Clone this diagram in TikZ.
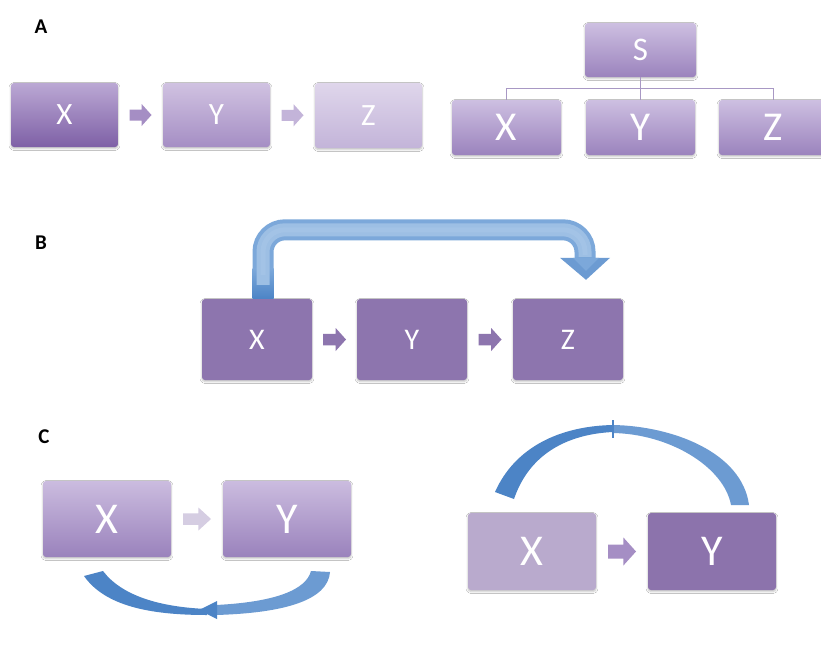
\documentclass[tikz,border=0pt]{standalone}
\usepackage{fontspec}
\setmainfont{Carlito}
\usetikzlibrary{calc,shadows.blur}

\definecolor{aXtop}{HTML}{BBA8D4}
\definecolor{aXbot}{HTML}{7E60A6}
\definecolor{aYtop}{HTML}{D0C2E1}
\definecolor{aYbot}{HTML}{A58EC4}
\definecolor{aZtop}{HTML}{DFD6EB}
\definecolor{aZbot}{HTML}{C3B4D9}
\definecolor{hTop}{HTML}{CDBFE1}
\definecolor{hBot}{HTML}{9B83BD}
\definecolor{hLine}{HTML}{A898C4}
\definecolor{bBox}{HTML}{8D75AE}
\definecolor{cXtop}{HTML}{CBBCDF}
\definecolor{cXbot}{HTML}{9A82BC}
\definecolor{pale}{HTML}{D5CDE2}
\definecolor{dLight}{HTML}{B9AACD}
\definecolor{dDark}{HTML}{8C73AC}
\definecolor{blueDark}{HTML}{4C84C6}
\definecolor{blueMid}{HTML}{6C9BD2}
\definecolor{blueEdge}{HTML}{7CA8DA}
\definecolor{blueLight}{HTML}{A3C3E6}

\tikzset{
  pbox/.style={rounded corners=3pt, text=white, inner sep=0pt,
    blur shadow={shadow xshift=0pt, shadow yshift=-1.5pt,
      shadow blur steps=4, shadow opacity=25}},
  grad/.style 2 args={top color=#1, bottom color=#2},
  conn/.style={draw=hLine, line width=1pt},
  lbl/.style={font=\bfseries\fontsize{21}{21}\selectfont, text=black}
}

% small block arrow placed midway between two boxes
\newcommand\blockarrow[5]{%
  \path ($(#1.east)!.5!(#2.west)$) coordinate (bm);
  \fill[#5, shift={(bm)}]
    (-#3,-#4/2) -- (#3*0.1,-#4/2) -- (#3*0.1,-#4) -- (#3,0)
    -- (#3*0.1,#4) -- (#3*0.1,#4/2) -- (-#3,#4/2) -- cycle;}

\begin{document}
\begin{tikzpicture}[x=1pt,y=-1pt]
\useasboundingbox[fill=white] (0,0) rectangle (821,645);

% ---------- A ----------
\node[lbl] (la) at (41,27) {A};
\begin{scope}[font=\fontsize{31}{31}\selectfont]
\node[pbox, grad={aXtop}{aXbot}, minimum width=107pt, minimum height=64pt] (ax) at (64.5,115) {X};
\node[pbox, grad={aYtop}{aYbot}, minimum width=107pt, minimum height=64pt] (ay) at (216.5,115) {Y};
\node[pbox, grad={aZtop}{aZbot}, minimum width=107pt, minimum height=65pt] (az) at (368.5,115.5) {Z};
\end{scope}
\blockarrow{ax}{ay}{11}{11}{aYbot}
\blockarrow{ay}{az}{11}{11}{aZbot}

% hierarchy
\node[pbox, grad={hTop}{hBot}, minimum width=111pt, minimum height=54pt,
  font=\fontsize{33}{33}\selectfont] (s) at (640.5,50) {S};
\begin{scope}[font=\fontsize{41}{41}\selectfont]
\node[pbox, grad={hTop}{hBot}, minimum width=109pt, minimum height=55pt] (hx) at (506.5,127.5) {X};
\node[pbox, grad={hTop}{hBot}, minimum width=109pt, minimum height=55pt] (hy) at (640.5,127.5) {Y};
\node[pbox, grad={hTop}{hBot}, minimum width=109pt, minimum height=55pt] (hz) at (773.5,127.5) {Z};
\end{scope}
\draw[conn] (s.south) -- (hy.north);
\draw[conn] (hx.north) |- ($(s.south)!.5!(hy.north)$) -| (hz.north);

% ---------- B ----------
\node[lbl] (lb) at (41,243) {B};
\begin{scope}[font=\fontsize{30}{30}\selectfont]
\node[pbox, fill=bBox, minimum width=110pt, minimum height=81pt] (bx) at (257,339.5) {X};
\node[pbox, fill=bBox, minimum width=110pt, minimum height=81pt] (by) at (412,339.5) {Y};
\node[pbox, fill=bBox, minimum width=110pt, minimum height=81pt] (bz) at (568,339.5) {Z};
\end{scope}
\blockarrow{bx}{by}{11.5}{11.5}{bBox}
\blockarrow{by}{bz}{11.5}{11.5}{bBox}

% bent arrow from X over Y into Z
\coordinate (bs) at ([xshift=6pt]bx.north);
\coordinate (be) at ([xshift=17pt,yshift=40pt]bz.north);
\draw[blueEdge, line width=21pt, rounded corners=22pt]
  (bs) -- ++(0,-69) -| (be);
\shade[top color=blueEdge, bottom color=blueDark]
  ($(bs)+(-10.5,-30)$) rectangle ($(bs)+(10.5,0)$);
\draw[blueLight!85!blueEdge, line width=13pt, rounded corners=22pt]
  ($(bs)+(0,-14)$) -- ++(0,-55) -| ($(be)+(0,-2)$);
\draw[blueLight, line width=5pt, rounded corners=22pt]
  ($(bs)+(0,-24)$) -- ++(0,-45) -| ($(be)+(0,-4)$);
\fill[blueMid] ($(be)+(-25,-1)$) -- ($(be)+(25,-1)$) -- ($(be)+(1,21)$) -- cycle;
\fill[blueEdge] ($(be)+(-12,-1)$) -- ($(be)+(14,-1)$) -- ($(be)+(1,12)$) -- cycle;

% ---------- C ----------
\node[lbl] (lc) at (44,437) {C};
\begin{scope}[font=\fontsize{44}{44}\selectfont]
\node[pbox, grad={cXtop}{cXbot}, minimum width=128pt, minimum height=76pt] (cx) at (107,519) {X};
\node[pbox, grad={cXtop}{cXbot}, minimum width=128pt, minimum height=76pt] (cy) at (287,519) {Y};
\node[pbox, fill=dLight, minimum width=128pt, minimum height=77pt] (dx) at (532,551.5) {X};
\node[pbox, fill=dDark, minimum width=128pt, minimum height=77pt] (dy) at (712,551.5) {Y};
\end{scope}
\blockarrow{cx}{cy}{14}{11.5}{pale}
\blockarrow{dx}{dy}{14}{14}{aYbot}

% feedback arc below, from Y back to X
\fill[blueDark] (84,576) .. controls (105,606) and (150,615) .. (207,615)
  -- (207,609) .. controls (160,607) and (122,596) .. (103,571) -- cycle;
\fill[blueMid] (330,572) .. controls (328,600) and (285,613) .. (216,615)
  -- (216,605) .. controls (275,602) and (306,590) .. (311,571) -- cycle;
\fill[blueDark] (199,610) -- (217,601) -- (217,619) -- cycle;

% feedback arc above, from Y back to X
\fill[blueDark] (495,492) .. controls (515,447) and (560,426) .. (613,425)
  -- (613,432) .. controls (570,434) and (530,452) .. (514,499) -- cycle;
\fill[blueMid] (613,425) .. controls (672,426) and (742,452) .. (749,505)
  -- (731,505) .. controls (724,467) and (670,434) .. (613,433) -- cycle;
\draw[blueDark, line width=2pt] (613,420) -- (613,438);
\end{tikzpicture}
\end{document}
